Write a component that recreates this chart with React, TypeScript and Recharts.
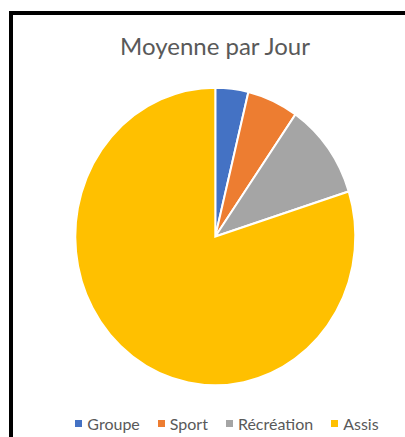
import { PieChart, Pie, Cell, Legend } from 'recharts';

const categories = ['Groupe', 'Sport', 'Récréation', 'Assis'];
const values = [3.8, 5.9, 10.4, 79.9];
const colors = ['#4472C4', '#ED7D31', '#A5A5A5', '#FFC000'];

const data = categories.map((name, i) => ({ name, value: values[i], color: colors[i] }));

const font = 'Lato, "Open Sans", sans-serif';

function LegendRow() {
  return (
    <div style={{ display: 'flex', justifyContent: 'center', gap: 18, paddingLeft: 24, fontFamily: font, fontSize: 16, color: '#595959' }}>
      {data.map((d) => (
        <span key={d.name} style={{ display: 'flex', alignItems: 'center' }}>
          <span style={{ width: 7, height: 7, background: d.color, display: 'inline-block', marginRight: 5 }} />
          {d.name}
        </span>
      ))}
    </div>
  );
}

export default function App() {
  return (
    <div style={{ position: 'absolute', left: 9, top: 11, width: 420, height: 450, borderLeft: '4px solid #000', borderTop: '4px solid #000', background: '#fff' }}>
      {/* the source picture is stretched a bit vertically */}
      <style>{'.pie-wrap .recharts-surface { transform: scaleY(1.063); transform-origin: 0 221.5px; }'}</style>
      <div style={{ position: 'absolute', left: 0, top: 16, width: 404, textAlign: 'center', fontFamily: font, fontSize: 24, color: '#595959' }}>
        Moyenne par Jour
      </div>
      <div className="pie-wrap" style={{ position: 'absolute', left: 0, top: 0 }}>
        <PieChart width={404} height={422}>
          <Pie
            data={data}
            dataKey="value"
            nameKey="name"
            cx={197.3}
            cy={216.5}
            outerRadius={140}
            startAngle={90}
            endAngle={-270}
            stroke="#fff"
            strokeWidth={2}
            isAnimationActive={false}
          >
            {data.map((d) => (
              <Cell key={d.name} fill={d.color} />
            ))}
          </Pie>
          <Legend verticalAlign="bottom" content={<LegendRow />} wrapperStyle={{ bottom: 4 }} />
        </PieChart>
      </div>
    </div>
  );
}
